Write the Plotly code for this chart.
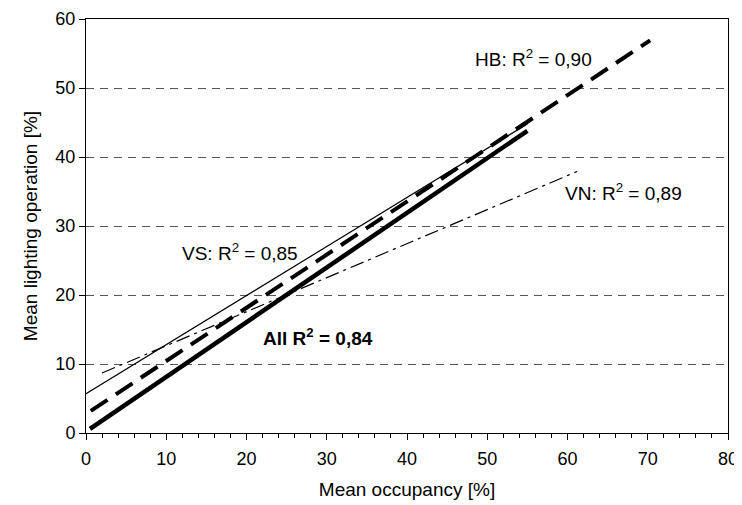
import plotly.graph_objects as go

# regression lines (mean occupancy %, mean lighting operation %)
x_all = [0.5, 55.0]
y_all = [0.6, 43.8]

x_hb = [0.6, 70.3]
y_hb = [3.2, 56.9]

x_vs = [0.0, 55.0]
y_vs = [5.7, 44.8]

x_vn = [2.0, 61.2]
y_vn = [8.7, 37.9]

labels = ["HB: R<sup>2</sup> = 0,90", "VN: R<sup>2</sup> = 0,89",
          "VS: R<sup>2</sup> = 0,85", "<b>All R<sup>2</sup> = 0,84</b>"]
label_x = [55.8, 67.0, 19.2, 28.9]
label_y = [54.3, 34.9, 26.2, 13.9]

FONT = "Liberation Sans, Arial, sans-serif"

fig = go.Figure()

fig.add_trace(go.Scatter(x=x_vs, y=y_vs, mode="lines",
                         line=dict(color="black", width=1.2)))
fig.add_trace(go.Scatter(x=x_vn, y=y_vn, mode="lines",
                         line=dict(color="black", width=1.2, dash="14px,5px,3px,5px")))
fig.add_trace(go.Scatter(x=x_hb, y=y_hb, mode="lines",
                         line=dict(color="black", width=4, dash="20px,10px")))
fig.add_trace(go.Scatter(x=x_all, y=y_all, mode="lines",
                         line=dict(color="black", width=4.5)))

for t, lx, ly in zip(labels, label_x, label_y):
    fig.add_annotation(x=lx, y=ly, text=t, showarrow=False,
                       font=dict(family=FONT, size=19, color="black"))

# page body has an 8px margin, so the figure is 8px smaller and margins shifted
fig.update_layout(
    width=734, height=497,
    margin=dict(l=78, r=14, t=11, b=72),
    paper_bgcolor="white", plot_bgcolor="white",
    showlegend=False,
    font=dict(family=FONT, size=18, color="black"),
)

fig.update_xaxes(
    range=[0, 80], dtick=10, showgrid=False, zeroline=False, automargin=False,
    showline=True, linecolor="black", linewidth=1, mirror=True,
    ticks="outside", ticklen=6, tickcolor="black", ticklabelstandoff=3,
    minor=dict(dtick=2, ticks="outside", ticklen=4, tickcolor="black", showgrid=False),
    title=dict(text="Mean occupancy [%]", font=dict(size=19), standoff=15),
    tickfont=dict(size=18),
)
fig.update_yaxes(
    range=[0, 60], dtick=10, zeroline=False, automargin=False,
    showgrid=True, gridcolor="#555555", griddash="8px,6px", gridwidth=1,
    showline=True, linecolor="black", linewidth=1, mirror=True,
    ticks="outside", ticklen=6, tickcolor="black",
    title=dict(text="Mean lighting operation [%]", font=dict(size=19), standoff=12),
    tickfont=dict(size=18),
)

fig.write_html("out.html")
